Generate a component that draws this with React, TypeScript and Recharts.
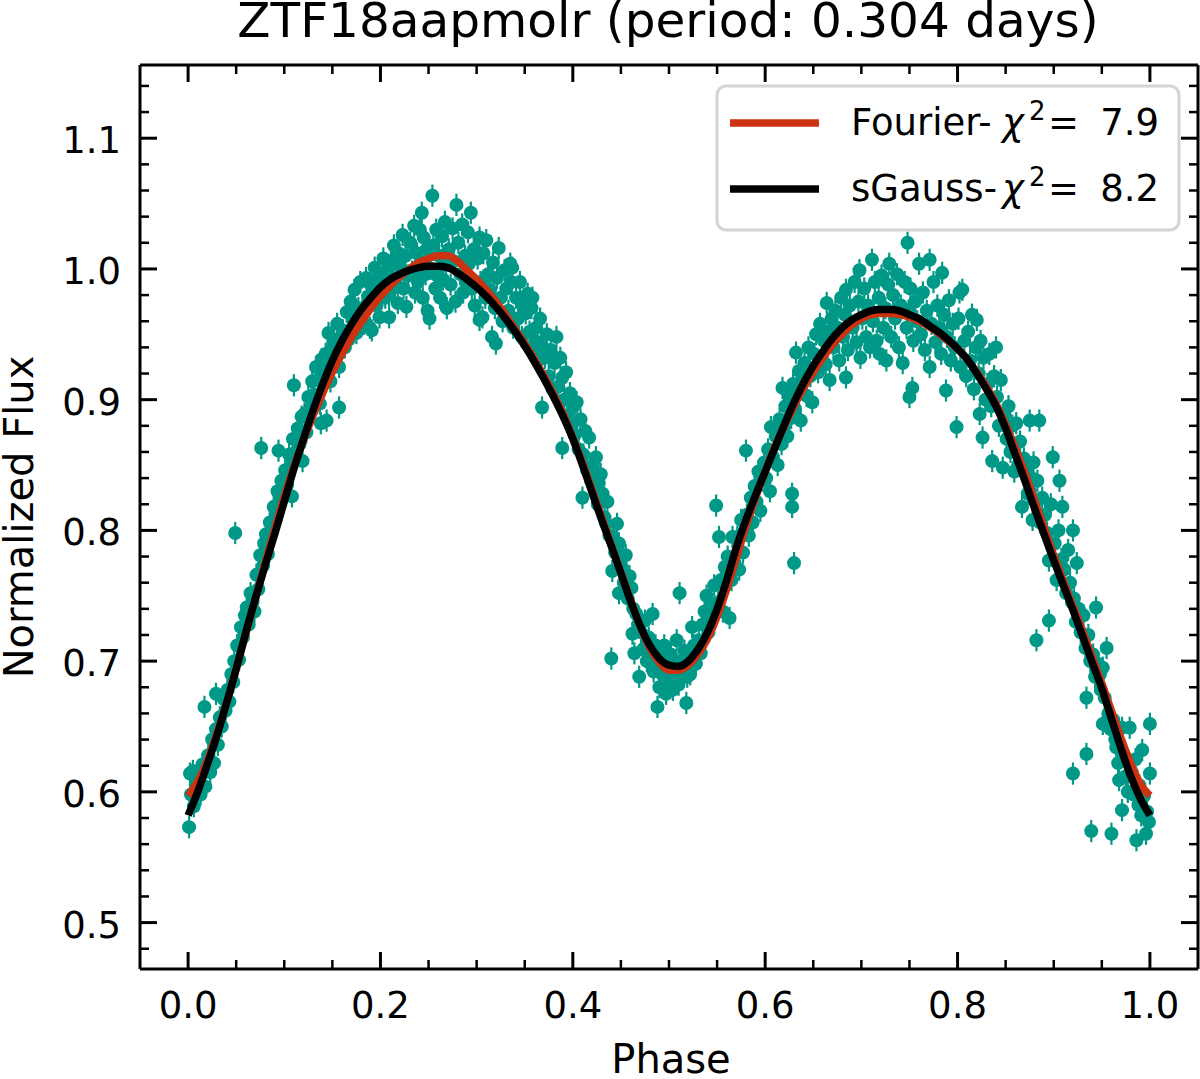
import React from 'react';
import { ComposedChart, Scatter, Line, XAxis, YAxis, ErrorBar } from 'recharts';

const TEAL = '#009988';
const RED = '#CC3311';
const FONT = 'DejaVu Sans';

const PHASE_DOMAIN = [-0.05, 1.05];
const FLUX_DOMAIN = [0.4645, 1.156];
const X_MAJOR = [0, 0.2, 0.4, 0.6, 0.8, 1.0];
const X_MINOR = [0.05, 0.1, 0.15, 0.25, 0.3, 0.35, 0.45, 0.5, 0.55, 0.65, 0.7, 0.75, 0.85, 0.9, 0.95];
const Y_MAJOR = [0.5, 0.6, 0.7, 0.8, 0.9, 1.0, 1.1];
const Y_MINOR = [0.48, 0.52, 0.54, 0.56, 0.58, 0.62, 0.64, 0.66, 0.68, 0.72, 0.74, 0.76, 0.78, 0.82, 0.84, 0.86, 0.88, 0.92, 0.94, 0.96, 0.98, 1.02, 1.04, 1.06, 1.08, 1.12, 1.14];

const ERR = 0.0085;

const OBS: [number, number][] = [
  [0.001,0.573],[0.002,0.614],[0.003,0.598],[0.005,0.616],[0.006,0.589],[0.008,0.605],
  [0.011,0.612],[0.013,0.598],[0.015,0.621],[0.017,0.665],[0.018,0.604],
  [0.021,0.628],[0.023,0.615],[0.025,0.640],[0.027,0.622],[0.029,0.675],[0.029,0.648],
  [0.031,0.636],[0.033,0.657],[0.035,0.650],[0.037,0.671],[0.039,0.662],
  [0.041,0.678],[0.043,0.669],[0.045,0.690],[0.047,0.684],[0.048,0.700],[0.049,0.798],
  [0.051,0.712],[0.053,0.701],[0.055,0.726],[0.057,0.718],[0.059,0.735],
  [0.061,0.741],[0.063,0.728],[0.065,0.752],[0.067,0.745],[0.069,0.738],
  [0.071,0.766],[0.073,0.755],[0.075,0.781],[0.076,0.863],[0.078,0.773],[0.079,0.790],
  [0.081,0.797],[0.083,0.782],[0.085,0.806],[0.087,0.799],[0.089,0.818],
  [0.091,0.812],[0.093,0.830],[0.094,0.861],[0.095,0.822],[0.097,0.838],[0.099,0.828],
  [0.101,0.846],[0.103,0.835],[0.105,0.858],[0.107,0.849],[0.108,0.826],[0.109,0.870],
  [0.110,0.911],[0.112,0.860],[0.114,0.878],[0.116,0.866],[0.118,0.887],[0.119,0.853],
  [0.121,0.889],[0.123,0.875],[0.125,0.902],[0.127,0.893],[0.129,0.914],
  [0.131,0.904],[0.133,0.925],[0.135,0.915],[0.137,0.897],[0.138,0.882],[0.139,0.931],
  [0.141,0.922],[0.143,0.935],[0.144,0.884],[0.146,0.951],[0.148,0.914],[0.149,0.938],
  [0.151,0.944],[0.153,0.929],[0.155,0.958],[0.157,0.894],[0.157,0.925],[0.159,0.948],
  [0.161,0.953],[0.163,0.940],[0.165,0.967],[0.167,0.946],[0.169,0.975],
  [0.171,0.962],[0.173,0.984],[0.175,0.951],[0.177,0.970],[0.179,0.990],
  [0.181,0.968],[0.183,0.958],[0.185,0.993],[0.187,0.979],[0.189,0.955],
  [0.191,0.953],[0.192,0.985],[0.194,1.001],[0.196,0.972],[0.198,0.994],[0.199,0.963],
  [0.201,0.990],[0.203,1.008],[0.205,0.978],[0.207,0.999],[0.209,0.963],[0.209,0.980],
  [0.211,1.006],[0.212,0.985],[0.214,1.018],[0.216,0.993],[0.218,0.974],[0.219,1.012],
  [0.221,1.001],[0.223,1.026],[0.224,0.985],[0.226,1.010],[0.227,0.971],[0.229,0.995],
  [0.231,1.020],[0.233,0.998],[0.235,1.033],[0.236,0.982],[0.238,1.012],[0.239,0.990],
  [0.241,1.030],[0.243,1.043],[0.242,1.005],[0.244,0.978],[0.245,1.024],[0.247,0.996],[0.248,1.015],[0.249,0.968],
  [0.251,0.962],[0.252,1.000],[0.254,1.056],[0.255,1.018],[0.257,0.985],[0.258,1.030],[0.259,0.995],
  [0.261,1.010],[0.262,0.978],[0.264,1.025],[0.265,0.992],[0.267,1.036],[0.268,1.003],[0.269,0.970],
  [0.271,1.015],[0.273,0.988],[0.275,1.031],[0.276,1.006],[0.278,0.975],[0.279,1.049],
  [0.281,1.020],[0.283,0.996],[0.285,1.034],[0.286,0.982],[0.288,1.010],[0.289,0.990],
  [0.291,1.028],[0.292,1.004],[0.294,1.043],[0.295,0.985],[0.297,1.015],[0.298,0.972],
  [0.301,1.008],[0.303,1.024],[0.303,0.961],[0.304,0.990],[0.306,0.963],[0.307,1.012],[0.309,0.978],
  [0.310,1.022],[0.312,0.996],[0.314,0.984],[0.316,0.948],[0.317,1.005],[0.319,0.970],
  [0.320,0.943],[0.321,0.993],[0.323,1.016],[0.325,0.978],[0.327,0.960],[0.329,0.999],
  [0.331,0.985],[0.333,0.968],[0.335,1.004],[0.336,0.990],[0.337,1.001],[0.338,0.955],
  [0.341,0.978],[0.343,0.962],[0.345,0.990],[0.347,0.948],[0.349,0.972],
  [0.351,0.966],[0.353,0.981],[0.355,0.952],[0.355,0.976],[0.357,0.970],[0.358,0.978],[0.359,0.938],
  [0.361,0.945],[0.362,0.955],[0.364,0.930],[0.366,0.962],[0.368,0.894],[0.369,0.940],
  [0.371,0.932],[0.373,0.950],[0.375,0.918],[0.377,0.938],[0.379,0.908],
  [0.381,0.928],[0.383,0.948],[0.385,0.910],[0.387,0.932],[0.389,0.917],[0.389,0.863],
  [0.391,0.900],[0.393,0.921],[0.395,0.888],[0.397,0.905],[0.399,0.880],
  [0.400,0.894],[0.402,0.873],[0.404,0.898],[0.406,0.862],[0.408,0.885],
  [0.410,0.825],[0.411,0.858],[0.413,0.876],[0.415,0.846],[0.417,0.871],[0.419,0.838],
  [0.421,0.850],[0.423,0.832],[0.424,0.856],[0.426,0.820],[0.427,0.836],[0.429,0.843],
  [0.431,0.828],[0.433,0.810],[0.435,0.805],[0.436,0.822],[0.438,0.796],
  [0.440,0.702],[0.441,0.769],[0.442,0.795],[0.444,0.783],[0.446,0.805],[0.448,0.790],[0.448,0.752],
  [0.451,0.772],[0.453,0.760],[0.455,0.781],[0.457,0.748],[0.459,0.765],
  [0.461,0.756],[0.462,0.721],[0.463,0.740],[0.464,0.706],[0.466,0.736],[0.468,0.728],[0.469,0.688],
  [0.471,0.722],[0.473,0.709],[0.475,0.731],[0.477,0.700],[0.479,0.718],
  [0.481,0.706],[0.483,0.736],[0.484,0.692],[0.486,0.712],[0.488,0.665],[0.489,0.698],
  [0.490,0.680],[0.491,0.704],[0.493,0.690],[0.495,0.712],[0.497,0.675],[0.498,0.695],
  [0.501,0.686],[0.502,0.705],[0.504,0.678],[0.505,0.698],[0.507,0.689],[0.508,0.716],
  [0.510,0.682],[0.511,0.752],[0.512,0.700],[0.514,0.692],[0.516,0.708],[0.518,0.668],[0.519,0.688],
  [0.521,0.703],[0.522,0.690],[0.524,0.726],[0.526,0.712],[0.528,0.698],
  [0.531,0.716],[0.533,0.706],[0.535,0.728],[0.537,0.738],[0.539,0.750],
  [0.541,0.722],[0.543,0.740],[0.545,0.732],[0.547,0.758],[0.549,0.819],
  [0.551,0.745],[0.552,0.795],[0.554,0.762],[0.556,0.738],[0.558,0.772],
  [0.561,0.780],[0.563,0.733],[0.565,0.762],[0.566,0.795],[0.568,0.775],
  [0.571,0.795],[0.573,0.770],[0.575,0.808],[0.577,0.783],[0.579,0.800],
  [0.580,0.861],[0.581,0.812],[0.583,0.796],[0.585,0.825],[0.587,0.806],[0.589,0.834],
  [0.591,0.822],[0.593,0.845],[0.595,0.815],[0.597,0.838],[0.599,0.852],
  [0.601,0.840],[0.603,0.862],[0.605,0.830],[0.606,0.879],[0.608,0.856],
  [0.611,0.872],[0.613,0.850],[0.615,0.885],[0.617,0.866],[0.618,0.909],[0.619,0.878],
  [0.621,0.895],[0.623,0.872],[0.625,0.902],[0.627,0.886],[0.628,0.828],[0.628,0.818],[0.629,0.912],
  [0.630,0.775],[0.631,0.893],[0.632,0.936],[0.634,0.905],[0.635,0.922],[0.637,0.884],[0.639,0.915],
  [0.641,0.928],[0.643,0.903],[0.645,0.940],[0.647,0.918],[0.649,0.898],
  [0.651,0.935],[0.653,0.950],[0.655,0.921],[0.657,0.958],[0.659,0.932],
  [0.661,0.945],[0.663,0.927],[0.664,0.974],[0.666,0.952],[0.667,0.915],[0.669,0.962],
  [0.671,0.940],[0.673,0.968],[0.675,0.955],[0.677,0.930],[0.679,0.978],
  [0.681,0.948],[0.683,0.965],[0.684,0.984],[0.684,0.917],[0.686,0.938],[0.688,0.972],
  [0.691,0.955],[0.693,0.990],[0.695,0.944],[0.697,0.975],[0.698,0.999],[0.699,0.932],
  [0.701,0.962],[0.703,0.985],[0.705,0.948],[0.707,0.972],[0.709,0.940],
  [0.711,1.007],[0.712,0.960],[0.714,0.990],[0.716,0.945],[0.718,0.978],[0.719,0.935],
  [0.721,0.995],[0.723,0.955],[0.725,0.970],[0.726,0.930],[0.728,0.988],[0.729,1.004],
  [0.731,0.948],[0.733,0.980],[0.735,0.962],[0.737,0.996],[0.739,0.940],
  [0.741,0.972],[0.743,0.928],[0.745,0.990],[0.747,0.955],[0.748,1.020],[0.749,0.968],
  [0.750,0.902],[0.751,0.985],[0.753,0.909],[0.754,0.945],[0.756,0.975],[0.758,0.960],
  [0.760,1.004],[0.762,0.950],[0.764,0.982],[0.766,0.938],[0.768,0.968],
  [0.771,1.007],[0.771,0.925],[0.773,0.958],[0.775,0.990],[0.777,0.944],[0.779,0.972],
  [0.781,0.955],[0.783,0.935],[0.784,0.997],[0.786,0.965],[0.788,0.907],[0.789,0.948],
  [0.791,0.976],[0.793,0.930],[0.795,0.958],[0.797,0.940],[0.799,0.879],
  [0.801,0.962],[0.802,0.982],[0.803,0.925],[0.805,0.984],[0.807,0.945],[0.809,0.918],
  [0.811,0.952],[0.813,0.930],[0.815,0.965],[0.817,0.908],[0.819,0.940],
  [0.820,0.961],[0.822,0.920],[0.823,0.889],[0.824,0.945],[0.826,0.871],[0.827,0.932],[0.829,0.900],
  [0.831,0.912],[0.833,0.935],[0.835,0.895],[0.836,0.853],[0.838,0.918],[0.840,0.940],
  [0.841,0.902],[0.843,0.880],[0.845,0.915],[0.847,0.848],[0.849,0.888],
  [0.851,0.870],[0.853,0.895],[0.855,0.860],[0.857,0.880],[0.859,0.845],
  [0.861,0.882],[0.863,0.850],[0.865,0.868],[0.867,0.818],[0.869,0.855],
  [0.871,0.845],[0.873,0.828],[0.875,0.884],[0.875,0.830],[0.877,0.840],[0.878,0.808],[0.879,0.852],
  [0.881,0.822],[0.882,0.716],[0.883,0.838],[0.885,0.884],[0.886,0.806],[0.888,0.825],
  [0.891,0.812],[0.893,0.798],[0.895,0.777],[0.895,0.731],[0.897,0.820],[0.899,0.856],
  [0.901,0.790],[0.903,0.762],[0.905,0.800],[0.906,0.838],[0.908,0.778],[0.909,0.818],
  [0.911,0.770],[0.913,0.752],[0.915,0.785],[0.917,0.760],[0.919,0.745],
  [0.920,0.800],[0.920,0.614],[0.921,0.748],[0.923,0.730],[0.924,0.775],[0.926,0.740],[0.928,0.722],
  [0.931,0.735],[0.933,0.710],[0.934,0.672],[0.934,0.629],[0.936,0.720],[0.938,0.700],
  [0.939,0.570],[0.941,0.705],[0.943,0.688],[0.944,0.741],[0.946,0.698],[0.948,0.690],[0.949,0.678],
  [0.951,0.695],[0.951,0.652],[0.953,0.672],[0.955,0.710],[0.957,0.660],[0.959,0.648],
  [0.960,0.568],[0.962,0.655],[0.964,0.640],[0.965,0.634],[0.967,0.622],[0.968,0.609],
  [0.971,0.649],[0.971,0.586],[0.973,0.628],[0.975,0.612],[0.977,0.600],[0.979,0.649],
  [0.981,0.615],[0.983,0.598],[0.985,0.625],[0.986,0.563],[0.988,0.590],[0.989,0.605],
  [0.991,0.582],[0.992,0.632],[0.994,0.597],[0.996,0.568],[0.997,0.585],[0.999,0.577],[1.000,0.652],[1.000,0.614],
];

const CURVE_PHASE = [
  0.00, 0.01, 0.02, 0.03, 0.04, 0.05, 0.06, 0.07, 0.08, 0.09,
  0.10, 0.11, 0.12, 0.13, 0.14, 0.15, 0.16, 0.17, 0.18, 0.19,
  0.20, 0.21, 0.22, 0.23, 0.24, 0.25, 0.26, 0.27, 0.28, 0.29,
  0.30, 0.31, 0.32, 0.33, 0.34, 0.35, 0.36, 0.37, 0.38, 0.39,
  0.40, 0.41, 0.42, 0.43, 0.44, 0.45, 0.46, 0.47, 0.48, 0.49,
  0.50, 0.51, 0.52, 0.53, 0.54, 0.55, 0.56, 0.57, 0.58, 0.59,
  0.60, 0.61, 0.62, 0.63, 0.64, 0.65, 0.66, 0.67, 0.68, 0.69,
  0.70, 0.71, 0.72, 0.73, 0.74, 0.75, 0.76, 0.77, 0.78, 0.79,
  0.80, 0.81, 0.82, 0.83, 0.84, 0.85, 0.86, 0.87, 0.88, 0.89,
  0.90, 0.91, 0.92, 0.93, 0.94, 0.95, 0.96, 0.97, 0.98, 0.99, 1.00,
];

const FOURIER_FLUX = [
  0.597, 0.608, 0.624, 0.645, 0.668, 0.694, 0.721, 0.748, 0.775, 0.801,
  0.826, 0.849, 0.869, 0.888, 0.905, 0.921, 0.935, 0.948, 0.959, 0.970,
  0.979, 0.987, 0.994, 1.000, 1.005, 1.008, 1.010, 1.010, 1.006, 0.999,
  0.992, 0.984, 0.975, 0.965, 0.954, 0.943, 0.931, 0.918, 0.904, 0.889,
  0.871, 0.852, 0.831, 0.810, 0.789, 0.768, 0.747, 0.727, 0.710, 0.699,
  0.693, 0.693, 0.697, 0.705, 0.717, 0.734, 0.755, 0.779, 0.803, 0.825,
  0.845, 0.864, 0.880, 0.895, 0.909, 0.921, 0.932, 0.942, 0.950, 0.957,
  0.962, 0.965, 0.966, 0.966, 0.965, 0.963, 0.960, 0.956, 0.951, 0.945,
  0.939, 0.931, 0.921, 0.910, 0.897, 0.881, 0.863, 0.844, 0.823, 0.802,
  0.781, 0.761, 0.742, 0.723, 0.703, 0.683, 0.662, 0.641, 0.622, 0.606, 0.597,
];

const SGAUSS_FLUX = [
  0.582, 0.600, 0.621, 0.643, 0.668, 0.694, 0.722, 0.748, 0.773, 0.797,
  0.822, 0.847, 0.870, 0.892, 0.912, 0.930, 0.945, 0.958, 0.969, 0.978,
  0.986, 0.992, 0.996, 0.999, 1.001, 1.002, 1.002, 1.001, 0.997, 0.992,
  0.986, 0.979, 0.971, 0.962, 0.952, 0.941, 0.929, 0.916, 0.902, 0.887,
  0.870, 0.850, 0.829, 0.808, 0.788, 0.767, 0.746, 0.727, 0.712, 0.702,
  0.697, 0.696, 0.700, 0.709, 0.722, 0.740, 0.762, 0.787, 0.808, 0.827,
  0.845, 0.863, 0.881, 0.898, 0.913, 0.926, 0.937, 0.947, 0.955, 0.961,
  0.965, 0.968, 0.969, 0.969, 0.968, 0.965, 0.962, 0.957, 0.952, 0.946,
  0.939, 0.931, 0.920, 0.908, 0.895, 0.878, 0.858, 0.838, 0.817, 0.797,
  0.777, 0.758, 0.739, 0.719, 0.699, 0.679, 0.656, 0.633, 0.612, 0.595, 0.582,
];

const obsData = OBS.map(([x, y]) => ({ x, y, err: ERR }));
const fourierData = CURVE_PHASE.map((x, i) => ({ x, y: FOURIER_FLUX[i] }));
const sgaussData = CURVE_PHASE.map((x, i) => ({ x, y: SGAUSS_FLUX[i] }));

const X_TICKS = [...X_MAJOR, ...X_MINOR];
const Y_TICKS = [...Y_MAJOR, ...Y_MINOR];
const isMajor = (list: number[], v: number) => list.some((m) => Math.abs(m - v) < 1e-9);

const MAJ = 17;
const MIN = 9;
const TICK_FONT = 37;

const BottomTick = (props: any) => {
  const { x, y, payload } = props;
  const major = isMajor(X_MAJOR, payload.value);
  return (
    <g>
      <line x1={x} x2={x} y1={y} y2={y - (major ? MAJ : MIN)} stroke="#000" strokeWidth={major ? 3 : 2.5} />
      {major && (
        <text x={x} y={y + 49} textAnchor="middle" fontFamily={FONT} fontSize={TICK_FONT} fill="#000">
          {payload.value.toFixed(1)}
        </text>
      )}
    </g>
  );
};

const TopTick = (props: any) => {
  const { x, y, payload } = props;
  const major = isMajor(X_MAJOR, payload.value);
  return <line x1={x} x2={x} y1={y} y2={y + (major ? MAJ : MIN)} stroke="#000" strokeWidth={major ? 3 : 2.5} />;
};

const LeftTick = (props: any) => {
  const { x, y, payload } = props;
  const major = isMajor(Y_MAJOR, payload.value);
  return (
    <g>
      <line x1={x} x2={x + (major ? MAJ : MIN)} y1={y} y2={y} stroke="#000" strokeWidth={major ? 3 : 2.5} />
      {major && (
        <text x={x - 19} y={y + 15} textAnchor="end" fontFamily={FONT} fontSize={TICK_FONT} fill="#000">
          {payload.value.toFixed(1)}
        </text>
      )}
    </g>
  );
};

const RightTick = (props: any) => {
  const { x, y, payload } = props;
  const major = isMajor(Y_MAJOR, payload.value);
  return <line x1={x} x2={x - (major ? MAJ : MIN)} y1={y} y2={y} stroke="#000" strokeWidth={major ? 3 : 2.5} />;
};

const Dot = (p: any) => <circle cx={p.cx} cy={p.cy} r={7} fill={TEAL} />;

const axisLine = { stroke: '#000', strokeWidth: 3 };

const LegendRow = ({ y, color, name, value }: { y: number; color: string; name: string; value: string }) => (
  <g>
    <line x1={730} x2={819} y1={y} y2={y} stroke={color} strokeWidth={7.5} />
    <text y={y + 12} fontFamily={FONT} fontSize={37} fill="#000">
      <tspan x={851}>{name}</tspan>
      <tspan x={1002} fontStyle="italic">χ</tspan>
      <tspan x={1029} dy={-15} fontSize={26}>2</tspan>
      <tspan x={1048} dy={15}>=</tspan>
      <tspan x={1159} textAnchor="end">{value}</tspan>
    </text>
  </g>
);

const CHART_W = 1200;
const CHART_H = 1079;

export default function App() {
  return (
    <div style={{ position: 'absolute', left: 0, top: 0, width: CHART_W, height: CHART_H, background: '#fff' }}>
      <div style={{ position: 'absolute', left: 0, top: 0 }}>
        <ComposedChart width={CHART_W} height={CHART_H} margin={{ top: 64, right: 1, left: 139, bottom: 109 }}>
          <XAxis xAxisId="b" dataKey="x" type="number" domain={PHASE_DOMAIN} ticks={X_TICKS} interval={0}
            height={1} tickSize={0} tickMargin={0} tickLine={false} axisLine={axisLine} tick={BottomTick} allowDataOverflow />
          <XAxis xAxisId="t" orientation="top" dataKey="x" type="number" domain={PHASE_DOMAIN} ticks={X_TICKS} interval={0}
            height={1} tickSize={0} tickMargin={0} tickLine={false} axisLine={axisLine} tick={TopTick} allowDataOverflow />
          <YAxis yAxisId="l" type="number" domain={FLUX_DOMAIN} ticks={Y_TICKS} interval={0}
            width={1} tickSize={0} tickMargin={0} tickLine={false} axisLine={axisLine} tick={LeftTick} allowDataOverflow />
          <YAxis yAxisId="r" orientation="right" type="number" domain={FLUX_DOMAIN} ticks={Y_TICKS} interval={0}
            width={1} tickSize={0} tickMargin={0} tickLine={false} axisLine={axisLine} tick={RightTick} allowDataOverflow />
          <Scatter xAxisId="b" yAxisId="l" data={obsData} dataKey="y" shape={Dot} isAnimationActive={false}>
            <ErrorBar dataKey="err" direction="y" width={0} stroke={TEAL} strokeWidth={2.2} isAnimationActive={false} />
          </Scatter>
        </ComposedChart>
      </div>
      <div style={{ position: 'absolute', left: 0, top: 0 }}>
        <ComposedChart width={CHART_W} height={CHART_H} margin={{ top: 65, right: 2, left: 140, bottom: 110 }}>
          <XAxis xAxisId="b" dataKey="x" type="number" domain={PHASE_DOMAIN} allowDataOverflow hide />
          <YAxis yAxisId="l" type="number" domain={FLUX_DOMAIN} allowDataOverflow hide />
          <Line xAxisId="b" yAxisId="l" data={fourierData} dataKey="y" type="monotone" stroke={RED} strokeWidth={7.5}
            dot={false} activeDot={false} isAnimationActive={false} />
          <Line xAxisId="b" yAxisId="l" data={sgaussData} dataKey="y" type="monotone" stroke="#000" strokeWidth={7.5}
            dot={false} activeDot={false} isAnimationActive={false} />
        </ComposedChart>
      </div>
      <svg width={CHART_W} height={CHART_H} style={{ position: 'absolute', left: 0, top: 0, pointerEvents: 'none' }}>
        <text x={668} y={37} textAnchor="middle" fontFamily={FONT} fontSize={48.5} fill="#000">
          ZTF18aapmolr (period: 0.304 days)
        </text>
        <text x={671} y={1073} textAnchor="middle" fontFamily={FONT} fontSize={40} fill="#000">Phase</text>
        <text x={33} y={517} textAnchor="middle" fontFamily={FONT} fontSize={40} fill="#000" transform="rotate(-90 33 517)">
          Normalized Flux
        </text>
        <rect x={717} y={86} width={462} height={144} rx={9} ry={9} fill="#fff" fillOpacity={0.8} stroke="#d4d4d4" strokeWidth={3} />
        <LegendRow y={123} color={RED} name="Fourier-" value="7.9" />
        <LegendRow y={189} color="#000" name="sGauss-" value="8.2" />
      </svg>
    </div>
  );
}
